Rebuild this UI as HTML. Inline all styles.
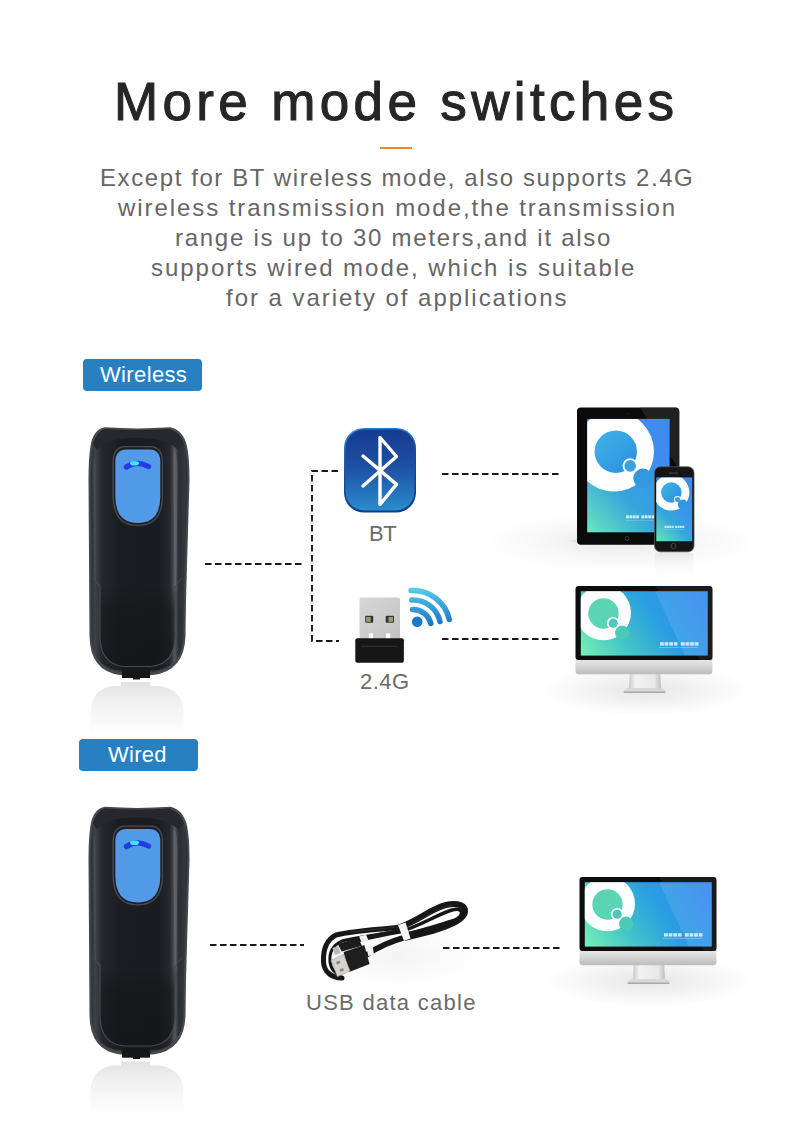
<!DOCTYPE html>
<html><head><meta charset="utf-8">
<style>
*{margin:0;padding:0;box-sizing:border-box}
html,body{width:790px;height:1122px;background:#fff;overflow:hidden;position:relative;font-family:"Liberation Sans",sans-serif}
svg#g{position:absolute;left:0;top:0}
.t{position:absolute;white-space:nowrap;font-family:"Liberation Sans",sans-serif}
#title{left:114px;top:75px;font-size:53px;line-height:53px;letter-spacing:4.353px;color:#262626;-webkit-text-stroke:1.1px #262626}
.p{font-size:24px;line-height:24px;color:#666}
.lbl{position:absolute;background:#2680c2;border-radius:4px}
.lt{font-size:22px;line-height:22px;color:#fff}
.cap{font-size:22px;line-height:22px;color:#6b6b6b}
</style></head><body>
<svg id="g" width="790" height="1122" viewBox="0 0 790 1122">
<defs>
<linearGradient id="bodyG" x1="0" x2="1" y1="0" y2="0">
  <stop offset="0" stop-color="#2e3135"/>
  <stop offset="0.05" stop-color="#3e4145"/>
  <stop offset="0.12" stop-color="#24272b"/>
  <stop offset="0.3" stop-color="#1a1d21"/>
  <stop offset="0.7" stop-color="#191c20"/>
  <stop offset="0.82" stop-color="#26292d"/>
  <stop offset="0.87" stop-color="#55585c"/>
  <stop offset="0.91" stop-color="#2a2d31"/>
  <stop offset="0.97" stop-color="#34373b"/>
  <stop offset="1" stop-color="#2a2d31"/>
</linearGradient>
<linearGradient id="reflG" x1="0" x2="0" y1="0" y2="1">
  <stop offset="0" stop-color="#e2e2e2"/>
  <stop offset="0.35" stop-color="#f0f0f0"/>
  <stop offset="1" stop-color="#ffffff"/>
</linearGradient>
<radialGradient id="ledG" cx="0.45" cy="0.5" r="0.5">
  <stop offset="0" stop-color="#50f0f8"/>
  <stop offset="0.35" stop-color="#2aa8f0"/>
  <stop offset="1" stop-color="#1838e0"/>
</radialGradient>
<linearGradient id="trayG" x1="0" x2="0" y1="0" y2="1">
  <stop offset="0" stop-color="#131518" stop-opacity="0"/>
  <stop offset="0.3" stop-color="#131518" stop-opacity="0.5"/>
  <stop offset="1" stop-color="#131518" stop-opacity="0.7"/>
</linearGradient>
<clipPath id="scanClip"><path d="M105,429 Q137,431.5 170,429 Q181,432 185,447 Q187.5,459 187.5,480 L184,600 L183.5,636 Q182.5,668 152,672 L122,672 Q92,668 91.5,636 L90.5,480 Q90.5,459 92.5,447 Q95,432 105,429 Z"/></clipPath>
<g id="scan">
  <!-- reflection -->
  <path d="M121,682 L150,682 L150,686 L160,686 Q183,690 183.5,712 L183.5,735 L90.5,735 L90.5,712 Q91,690 112,686 L121,686 Z" fill="url(#reflG)"/>
  <!-- body outer -->
  <path d="M105,427.3 Q137,429.5 170.5,427.3 Q183,430 187,446 Q189.5,458 189.5,480 L186,600 L185.5,636 Q184.5,671 153,675 L150,675 L150,678 L122,678 L122,675 L120,675 Q90,671 89.5,636 L88.5,480 Q88.5,458 90.5,446 Q93,430 104,427.5 Z" fill="#45484c"/>
  <path d="M105,429 Q137,431.5 170,429 Q181,432 185,447 Q187.5,459 187.5,480 L184,600 L183.5,636 Q182.5,668 152,672 L122,672 Q92,668 91.5,636 L90.5,480 Q90.5,459 92.5,447 Q95,432 105,429 Z" fill="url(#bodyG)"/>
  <!-- top rim -->
  <path d="M105,429.5 Q137,432 170,429.5 Q180,432 184,444 L178,450 Q168,438 137,438 Q106,438 97,450 L93,444 Q96,432 105,429.5 Z" fill="#25282c"/>
  <!-- highlights -->
  <path d="M174,450 Q177,452 177.5,470 L176.5,590 Q175.5,596 174.5,590 L173.5,470 Q173,452 174,450 Z" fill="#6a6d71" opacity="0.55"/>
  <path d="M94,455 Q95.5,460 95.5,480 L95.5,580 L94.5,580 L93.5,480 Q93.5,460 94,455 Z" fill="#5a5d61" opacity="0.5"/>
  <!-- lower panel lines -->
  <g clip-path="url(#scanClip)">
  <path d="M88,636 Q89,672 122,673 L152,673 Q186,672 187,636" fill="none" stroke="#36393d" stroke-width="5"/>
  <path d="M100,586 L100,636 Q100,664 124,666.5 L151,666.5 Q175,664 175,636 L175,587" fill="url(#trayG)"/>
  <path d="M93,577.5 L100,586 L100,636 Q100,664 124,666.5 L151,666.5 Q175,664 175,636 L175,587 L182,577.5" fill="none" stroke="#45484c" stroke-width="1.2"/>
  </g>
  <!-- tab -->
  <rect x="122" y="668" width="28" height="10" fill="#15171a"/>
  <rect x="133" y="677" width="7" height="2.5" fill="#15171a"/>
  <!-- button bezel -->
  <path d="M125,446 L151,446 Q163,446.5 163,462 L163,496 Q163,526 137.8,526 Q112.5,526 112.5,496 L112.5,462 Q112.5,446.5 125,446 Z" fill="#4a4c4f"/>
  <path d="M125.5,447.3 L150.5,447.3 Q161.8,447.8 161.8,462 L161.8,496 Q161.8,524.8 137.8,524.8 Q113.8,524.8 113.8,496 L113.8,462 Q113.8,447.8 125.5,447.3 Z" fill="#1e2023"/>
  <path d="M126,449.5 L150,449.5 Q160.3,450 160.3,462 L160.3,496 Q160.3,523 137.8,523 Q115.3,523 115.3,496 L115.3,462 Q115.3,450 126,449.5 Z" fill="#5299e8"/>
  <!-- led -->
  <path d="M126.5,467 Q137,460 148.5,466.5" fill="none" stroke="#1e3ee4" stroke-width="5.4" stroke-linecap="round"/>
  <ellipse cx="134.5" cy="463.3" rx="4.5" ry="2.3" fill="#3ee6f4"/>
</g>
<linearGradient id="btG" x1="0" x2="0" y1="0" y2="1">
  <stop offset="0" stop-color="#163c92"/>
  <stop offset="0.45" stop-color="#1d4fa0"/>
  <stop offset="1" stop-color="#2a8ccc"/>
</linearGradient>
<linearGradient id="btB" x1="0" x2="0.3" y1="0" y2="1">
  <stop offset="0" stop-color="#2c8fd2"/>
  <stop offset="0.5" stop-color="#1a4ea0"/>
  <stop offset="1" stop-color="#0e3a8c"/>
</linearGradient>
<linearGradient id="wifiG" gradientUnits="userSpaceOnUse" x1="0" x2="0" y1="588" y2="626">
  <stop offset="0" stop-color="#5ccbea"/>
  <stop offset="1" stop-color="#1672c4"/>
</linearGradient>
<linearGradient id="metalG" x1="0" x2="1" y1="0" y2="1">
  <stop offset="0" stop-color="#d6d6d6"/>
  <stop offset="0.5" stop-color="#cdcdcd"/>
  <stop offset="1" stop-color="#c2c2c2"/>
</linearGradient>
<linearGradient id="tabScr" gradientUnits="userSpaceOnUse" x1="590" y1="535" x2="665" y2="465">
  <stop offset="0" stop-color="#6ae6bc"/>
  <stop offset="0.5" stop-color="#34a6dc"/>
  <stop offset="1" stop-color="#3e8cf0"/>
</linearGradient>
<linearGradient id="phScr" gradientUnits="userSpaceOnUse" x1="656" y1="541" x2="690" y2="505">
  <stop offset="0" stop-color="#6ae6bc"/>
  <stop offset="0.5" stop-color="#34a6dc"/>
  <stop offset="1" stop-color="#3e8cf0"/>
</linearGradient>
<linearGradient id="circG" x1="0" x2="1" y1="0" y2="1">
  <stop offset="0" stop-color="#40b4e4"/>
  <stop offset="1" stop-color="#2a8ee2"/>
</linearGradient>
<radialGradient id="shadowT" cx="0.5" cy="0.5" r="0.5">
  <stop offset="0" stop-color="#000" stop-opacity="0.09"/>
  <stop offset="0.5" stop-color="#000" stop-opacity="0.035"/>
  <stop offset="1" stop-color="#000" stop-opacity="0"/>
</radialGradient>
<linearGradient id="monScr" gradientUnits="userSpaceOnUse" x1="585" y1="662" x2="700" y2="585">
  <stop offset="0" stop-color="#76f2b4"/>
  <stop offset="0.3" stop-color="#44c6c6"/>
  <stop offset="0.6" stop-color="#2a9ee2"/>
  <stop offset="1" stop-color="#3486f0"/>
</linearGradient>
<linearGradient id="chinG" x1="0" x2="0" y1="0" y2="1">
  <stop offset="0" stop-color="#e6e6e6"/>
  <stop offset="0.5" stop-color="#d2d2d2"/>
  <stop offset="1" stop-color="#bcbcbc"/>
</linearGradient>
<linearGradient id="neckG" x1="0" x2="1" y1="0" y2="0">
  <stop offset="0" stop-color="#c8c8c8"/>
  <stop offset="0.2" stop-color="#f2f2f2"/>
  <stop offset="0.8" stop-color="#e8e8e8"/>
  <stop offset="1" stop-color="#bdbdbd"/>
</linearGradient>
<radialGradient id="shadowG" cx="0.5" cy="0.5" r="0.5">
  <stop offset="0" stop-color="#000" stop-opacity="0.10"/>
  <stop offset="0.6" stop-color="#000" stop-opacity="0.04"/>
  <stop offset="1" stop-color="#000" stop-opacity="0"/>
</radialGradient>
<clipPath id="tabClip"><rect x="587.2" y="418.9" width="82.4" height="113.4"/></clipPath>
<clipPath id="phClip"><rect x="656.3" y="477.4" width="35.9" height="63.8"/></clipPath>
<clipPath id="monClip"><rect x="580.8" y="591.2" width="127" height="64.4"/></clipPath>
<g id="monitor">
  <ellipse cx="645" cy="690" rx="105" ry="26" fill="url(#shadowG)"/>
  <path d="M629.8,674 L660.2,674 L661,688 L629,688 Z" fill="url(#neckG)"/>
  <path d="M629,688 L661,688 Q666,689 665.3,692.5 L623.7,692.5 Q623,689 629,688 Z" fill="#d8d8d8"/>
  <rect x="623.7" y="691.5" width="41.6" height="1.5" fill="#a8a8a8"/>
  <path d="M575.5,660 L712.4,660 L712.4,671 Q712.4,674.2 709,674.2 L579,674.2 Q575.5,674.2 575.5,671 Z" fill="url(#chinG)"/>
  <rect x="575.5" y="586.1" width="136.9" height="74" rx="3" fill="#0c0c0c"/>
  <path d="M655,586.1 L709,586.1 Q712.4,586.1 712.4,590 L712.4,660 L700,660 Z" fill="#2a2a2a" opacity="0.5"/>
  <rect x="580.8" y="591.2" width="127" height="64.4" fill="url(#monScr)"/>
  <g clip-path="url(#monClip)">
    <circle cx="603.5" cy="612.8" r="27.5" fill="#fff"/>
    <circle cx="603.5" cy="613.5" r="15.2" fill="#5ad4b4"/>
    <circle cx="613.2" cy="623.2" r="6.2" fill="#fff"/>
    <circle cx="613.2" cy="623.2" r="4.6" fill="#4cc8bc"/>
    <circle cx="622.1" cy="632.7" r="7.1" fill="#4ccab8"/>
    <path d="M655,591.2 L707.8,591.2 L707.8,655.6 L685,655.6 Z" fill="#fff" opacity="0.1"/>
    <g><rect x="660.0" y="642.2" width="3.8" height="3.4" fill="#fff" opacity="0.75"/><rect x="664.6" y="642.2" width="3.8" height="3.4" fill="#fff" opacity="0.75"/><rect x="669.2" y="642.2" width="3.8" height="3.4" fill="#fff" opacity="0.75"/><rect x="673.8" y="642.2" width="3.8" height="3.4" fill="#fff" opacity="0.75"/><rect x="680.9" y="642.2" width="3.8" height="3.4" fill="#fff" opacity="0.75"/><rect x="685.5" y="642.2" width="3.8" height="3.4" fill="#fff" opacity="0.75"/><rect x="690.1" y="642.2" width="3.8" height="3.4" fill="#fff" opacity="0.75"/><rect x="694.7" y="642.2" width="3.8" height="3.4" fill="#fff" opacity="0.75"/></g>
    <rect x="659" y="647.3" width="39" height="0.7" fill="#fff" opacity="0.4"/>
  </g>
</g>
</defs>
<use href="#scan"/>
<use href="#scan" transform="translate(0,379.5)"/>
<!-- dashed lines -->
<g stroke="#1a1a1a" stroke-width="1.9" fill="none" stroke-dasharray="6.5 3.5">
  <line x1="205" y1="564" x2="304" y2="564"/>
  <path d="M338,471 L312,471 L312,641 L339,641"/>
  <line x1="442" y1="474" x2="561" y2="474"/>
  <line x1="442" y1="639" x2="561" y2="639"/>
  <line x1="210" y1="945" x2="304" y2="945"/>
  <line x1="443" y1="948" x2="562" y2="948"/>
</g>
<!-- bluetooth -->
<rect x="344" y="428" width="72" height="84.5" rx="20" ry="20" fill="url(#btB)"/>
<rect x="345.5" y="429.5" width="69" height="81" rx="18.5" ry="18.5" fill="url(#btG)"/>
<path d="M363,456 L396.5,484.4 L380,504.5 L380,437.5 L396.5,456.5 L363,486" fill="none" stroke="#fff" stroke-width="3.4" stroke-linecap="round" stroke-linejoin="round"/>
<!-- dongle -->
<rect x="359.5" y="597.5" width="40.5" height="42" rx="1.5" fill="url(#metalG)"/>
<rect x="365.2" y="615.8" width="8" height="7" rx="1" fill="#2a3a30"/><rect x="366.2" y="617" width="4.5" height="4.8" fill="#a89870"/>
<rect x="385.7" y="615.8" width="8.3" height="7" rx="1" fill="#2a3a30"/><rect x="388.5" y="617" width="4.5" height="4.8" fill="#a89870"/>
<rect x="368.8" y="633.5" width="4.2" height="6" fill="#fff"/>
<rect x="386" y="633.5" width="4.2" height="6" fill="#fff"/>
<rect x="355.3" y="638.2" width="48.6" height="24.6" rx="2" fill="#161616"/>
<g stroke="#444" stroke-width="0.7"><line x1="361" y1="646.2" x2="398" y2="646.2"/></g><g fill="#444"><rect x="355.3" y="645" width="1" height="1"/><rect x="355.3" y="650" width="1" height="1"/><rect x="355.3" y="655" width="1" height="1"/><rect x="402.9" y="645" width="1" height="1"/><rect x="402.9" y="650" width="1" height="1"/><rect x="402.9" y="655" width="1" height="1"/></g>
<!-- wifi -->
<g fill="none" stroke="url(#wifiG)" stroke-width="5.5" stroke-linecap="round">
  <path d="M412.5,609.5 A18.2,18.2 0 0 1 430.8,623.5"/>
  <path d="M411.8,600 A27.6,27.6 0 0 1 440,621.5"/>
  <path d="M411,590.6 A37,37 0 0 1 449.3,619.5"/>
</g>
<circle cx="417.2" cy="621.8" r="5.3" fill="#1a78c8"/>
<!-- tablet shadow -->
<ellipse cx="620" cy="542" rx="140" ry="30" fill="url(#shadowT)"/>
<ellipse cx="630" cy="541" rx="60" ry="4" fill="#000" opacity="0.05"/>
<!-- tablet -->
<rect x="577" y="407.4" width="102.3" height="137.3" rx="4" fill="#0a0a0a"/>
<path d="M640,407.4 L675,407.4 Q679.3,407.4 679.3,411 L679.3,470 Z" fill="#333" opacity="0.55"/>
<circle cx="628" cy="413.5" r="0.8" fill="#223"/>
<rect x="587.2" y="418.9" width="82.4" height="113.4" fill="url(#tabScr)"/>
<g clip-path="url(#tabClip)">
  <circle cx="614" cy="451.5" r="40" fill="#fff"/>
  <circle cx="615.8" cy="451.7" r="21.2" fill="url(#circG)"/>
  <circle cx="630.2" cy="465.9" r="7.6" fill="#fff"/>
  <circle cx="630.2" cy="465.9" r="5.8" fill="#3aa2e2"/>
  <circle cx="643" cy="478.3" r="9.7" fill="#3398e2"/>
  <rect x="626.0" y="515.3" width="2.8" height="3" fill="#fff" opacity="0.75"/><rect x="629.4" y="515.3" width="2.8" height="3" fill="#fff" opacity="0.75"/><rect x="632.8" y="515.3" width="2.8" height="3" fill="#fff" opacity="0.75"/><rect x="636.2" y="515.3" width="2.8" height="3" fill="#fff" opacity="0.75"/><rect x="641.4" y="515.3" width="2.8" height="3" fill="#fff" opacity="0.75"/><rect x="644.8" y="515.3" width="2.8" height="3" fill="#fff" opacity="0.75"/><rect x="648.2" y="515.3" width="2.8" height="3" fill="#fff" opacity="0.75"/><rect x="651.6" y="515.3" width="2.8" height="3" fill="#fff" opacity="0.75"/>
  <rect x="625" y="520" width="30" height="0.6" fill="#fff" opacity="0.35"/>
</g>
<circle cx="627" cy="538.5" r="2" fill="none" stroke="#444" stroke-width="0.8"/>
<!-- phone reflection -->
<rect x="655" y="553" width="38.5" height="22" rx="3" fill="url(#reflG)" opacity="0.7"/>
<!-- phone -->
<rect x="654.5" y="466.8" width="39.5" height="85" rx="6" fill="#151515" stroke="#555" stroke-width="0.8"/>
<rect x="669" y="472.5" width="9" height="1.2" rx="0.6" fill="#444"/>
<rect x="656.3" y="477.4" width="35.9" height="63.8" fill="url(#phScr)"/>
<g clip-path="url(#phClip)">
  <circle cx="671.3" cy="492.5" r="18" fill="#fff"/>
  <circle cx="671.3" cy="492.5" r="10.2" fill="url(#circG)"/>
  <circle cx="677.5" cy="499.6" r="3.6" fill="#fff"/>
  <circle cx="677.5" cy="499.6" r="2.6" fill="#3aa2e2"/>
  <circle cx="682.8" cy="504.5" r="5" fill="#3398e2"/>
  <rect x="664.5" y="525.8" width="2" height="2.2" fill="#fff" opacity="0.7"/><rect x="666.9" y="525.8" width="2" height="2.2" fill="#fff" opacity="0.7"/><rect x="669.3" y="525.8" width="2" height="2.2" fill="#fff" opacity="0.7"/><rect x="671.7" y="525.8" width="2" height="2.2" fill="#fff" opacity="0.7"/><rect x="675.1" y="525.8" width="2" height="2.2" fill="#fff" opacity="0.7"/><rect x="677.5" y="525.8" width="2" height="2.2" fill="#fff" opacity="0.7"/><rect x="679.9" y="525.8" width="2" height="2.2" fill="#fff" opacity="0.7"/><rect x="682.3" y="525.8" width="2" height="2.2" fill="#fff" opacity="0.7"/>
  <rect x="664" y="529.5" width="20" height="0.5" fill="#fff" opacity="0.35"/>
</g>
<circle cx="673.5" cy="546" r="2.6" fill="none" stroke="#555" stroke-width="0.8"/>
<!-- monitors -->
<use href="#monitor"/>
<use href="#monitor" transform="translate(4,291)"/>
<!-- cable -->
<g id="cable">
  <ellipse cx="398" cy="955" rx="85" ry="32" fill="url(#shadowG)" opacity="0.45"/>
  <g fill="none" stroke="#171717" stroke-linecap="round">
    <!-- outer left loop -->
    <path d="M403,927 C380,929 350,931 336,935 C326,940 323,950 323.5,962 C324,972 332,978 342,978" stroke-width="5"/>
    <path d="M400,931 C380,934 352,938 342,941 C333,945 329,952 330,962 C331,970 336,974 340,975" stroke-width="3"/>
    <!-- bundle right -->
    <path d="M400,927 C418,921 432,908 446,905 C458,902 466,906 465,912 C464,920 450,926 432,931 C420,934 412,936 404,938" stroke-width="6"/>
    <path d="M402,931 C420,926 438,914 452,910 C460,908 463,911 461,915 C458,921 445,925 430,929" stroke-width="3.5"/>
    <path d="M404,934 C425,930 440,924 455,920" stroke-width="3"/>
    <path d="M358,940 C375,936 390,933 402,931" stroke-width="4.5"/>
    <!-- lower strand to plug -->
    <path d="M406,937 C392,941 378,947 368,954" stroke-width="5.5"/>
  </g>
  <g fill="none" stroke="#3d3d3d" stroke-width="0.6">
    <path d="M350,932 C370,930 390,928 402,926"/>
    <path d="M412,923 C425,918 438,908 452,905"/>
  </g>
  <!-- band -->
  <path d="M398,925 L405.5,922.5 L410.5,938.5 L404,941 Z" fill="#f4f4f4"/>
  <!-- micro usb end -->
  <path d="M337.7,944 L358.1,937.8 L362,945.8 L341.7,951.6 Z" fill="#1c1c1c"/>
  <path d="M332.4,948 L338,946 L340.5,953 L335,955 Z" fill="#b8b8b8"/>
  <path d="M359,936.5 L366,934.7 L368.3,940 L361.6,942.3 Z" fill="#f2f2f2"/>
  <path d="M366,945.4 L372.3,943.6 L374,955.1 L368.3,956 Z" fill="#f2f2f2"/>
  <!-- usb-a plug -->
  <path d="M343.5,952 L364.3,944.9 L369.6,964 L349.2,972 Z" fill="#1e1e1e"/>
  <path d="M331.1,960.4 L343.5,954.2 L350.1,971.1 L337.3,976.8 Z" fill="#d6d2cc" stroke="#8a8a8a" stroke-width="0.5"/>
  <path d="M336,962 L339.5,960.5 L340.5,963 L337,964.5 Z M339.5,969.5 L343,968 L344,970.5 L340.5,972 Z" fill="#888"/>
</g>
<!-- orange line -->
<rect x="380" y="147" width="32" height="2" fill="#f08a24"/>
</svg>
<div class="t" id="title">More mode switches</div>
<div class="t p" style="left:100px;top:166px;letter-spacing:1.587px">Except for BT wireless mode, also supports 2.4G</div>
<div class="t p" style="left:118px;top:196px;letter-spacing:1.929px">wireless transmission mode,the transmission</div>
<div class="t p" style="left:175px;top:226px;letter-spacing:1.729px">range is up to 30 meters,and it also</div>
<div class="t p" style="left:151px;top:256px;letter-spacing:1.959px">supports wired mode, which is suitable</div>
<div class="t p" style="left:226px;top:286px;letter-spacing:1.964px">for a variety of applications</div>
<div class="lbl" style="left:83px;top:359px;width:119px;height:32px"></div>
<div class="lbl" style="left:79px;top:739px;width:119px;height:32px"></div>
<div class="t lt" style="left:100px;top:364px;letter-spacing:0.357px">Wireless</div>
<div class="t lt" style="left:108px;top:744px;letter-spacing:0.25px">Wired</div>
<div class="t cap" style="left:369px;top:523px;letter-spacing:-0.5px">BT</div>
<div class="t cap" style="left:360px;top:671px;letter-spacing:0.5px">2.4G</div>
<div class="t cap" style="left:306px;top:992px;letter-spacing:1.269px">USB data cable</div>
</body></html>
